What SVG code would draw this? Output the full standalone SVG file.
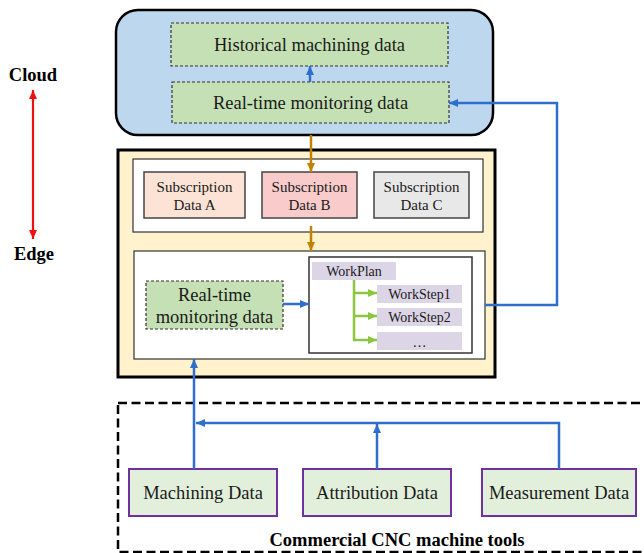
<svg xmlns="http://www.w3.org/2000/svg" width="644" height="553" viewBox="0 0 644 553">
<style>
text{font-family:"Liberation Serif","Times New Roman",serif;fill:#1a1a1a;text-anchor:middle}
.lbl{font-size:18.5px}
.sub{font-size:15px}
.wp{font-size:14px}
.bold{font-weight:bold;font-size:18.5px;fill:#000}
.dgreen{fill:#c5e0b4;stroke:#333;stroke-width:1.2;stroke-dasharray:3 2}
.subbox{stroke:#444;stroke-width:1.5}
.lav{fill:#dcd5e6}
.src{fill:#e2efda;stroke:#7030a0;stroke-width:2}
.blue{fill:none;stroke:#2e6fcd;stroke-width:2.5}
.orange{fill:none;stroke:#c08206;stroke-width:2.5}
.lgreen{fill:none;stroke:#8cc63f;stroke-width:2.5}
</style>
<defs>
<marker id="ab" markerUnits="userSpaceOnUse" markerWidth="9" markerHeight="8" refX="9" refY="4" orient="auto"><path d="M0,0 L9,4 L0,8 z" fill="#2e6fcd"/></marker>
<marker id="ao" markerUnits="userSpaceOnUse" markerWidth="9" markerHeight="8" refX="9" refY="4" orient="auto"><path d="M0,0 L9,4 L0,8 z" fill="#c08206"/></marker>
<marker id="ag" markerUnits="userSpaceOnUse" markerWidth="9" markerHeight="8" refX="9" refY="4" orient="auto"><path d="M0,0 L9,4 L0,8 z" fill="#8cc63f"/></marker>
<marker id="ar" markerUnits="userSpaceOnUse" markerWidth="9" markerHeight="8" refX="9" refY="4" orient="auto-start-reverse"><path d="M0,0 L9,4 L0,8 z" fill="#ee1111"/></marker>
</defs>

<g id="axis">
<text class="bold" x="33" y="81">Cloud</text>
<text class="bold" x="34" y="260">Edge</text>
<line x1="33" y1="90" x2="33" y2="239" stroke="#ee1111" stroke-width="2.2" marker-start="url(#ar)" marker-end="url(#ar)"/>
</g>

<g id="cloud">
<rect x="116" y="10" width="377" height="125" rx="22" fill="#bdd7ee" stroke="#000" stroke-width="2.5"/>
</g>
<g id="historical">
<rect class="dgreen" x="171" y="23" width="277" height="43"/>
<text class="lbl" x="309.5" y="51">Historical machining data</text>
</g>
<g id="cloud-realtime">
<rect class="dgreen" x="172" y="82" width="277" height="41"/>
<text class="lbl" x="310.5" y="109">Real-time monitoring data</text>
</g>

<g id="edge">
<rect x="118" y="150" width="377" height="227" fill="#fff2cc" stroke="#000" stroke-width="3"/>
</g>
<g id="subscriptions">
<rect x="133" y="159" width="350" height="73" fill="#fff" stroke="#333" stroke-width="1.2"/>
</g>
<g id="subA">
<rect class="subbox" x="144" y="172" width="101" height="46" fill="#fce3d6"/>
<text class="sub" x="194.5" y="192">Subscription</text>
<text class="sub" x="194.5" y="210">Data A</text>
</g>
<g id="subB">
<rect class="subbox" x="262" y="172" width="95" height="46" fill="#f9cbcb"/>
<text class="sub" x="309.5" y="192">Subscription</text>
<text class="sub" x="309.5" y="210">Data B</text>
</g>
<g id="subC">
<rect class="subbox" x="374" y="172" width="95" height="46" fill="#e8e8e8"/>
<text class="sub" x="421.5" y="192">Subscription</text>
<text class="sub" x="421.5" y="210">Data C</text>
</g>
<g id="processing">
<rect x="134" y="251" width="351" height="108" fill="#fff" stroke="#333" stroke-width="1.2"/>
</g>
<g id="edge-realtime">
<rect class="dgreen" x="146" y="281" width="137" height="48"/>
<text class="lbl" x="214.5" y="301">Real-time</text>
<text class="lbl" x="214.5" y="323">monitoring data</text>
</g>
<g id="workplan-box">
<rect x="309" y="257" width="163" height="96" fill="#fff" stroke="#333" stroke-width="1.5"/>
</g>
<g id="workplan">
<rect class="lav" x="312" y="262" width="84" height="18"/>
<text class="wp" x="354" y="276">WorkPlan</text>
</g>
<g id="workstep1">
<rect class="lav" x="377" y="285" width="85" height="18"/>
<text class="wp" x="419.5" y="299">WorkStep1</text>
</g>
<g id="workstep2">
<rect class="lav" x="377" y="308" width="85" height="18"/>
<text class="wp" x="419.5" y="322">WorkStep2</text>
</g>
<g id="workstep-more">
<rect class="lav" x="377" y="332" width="85" height="18"/>
<text class="wp" x="419.5" y="347">…</text>
</g>

<g id="cnc">
<rect x="118" y="403" width="545" height="149" fill="none" stroke="#000" stroke-width="2.5" stroke-dasharray="9 4.5"/>
<text class="bold" x="397" y="546">Commercial CNC machine tools</text>
</g>
<g id="machining">
<rect class="src" x="129" y="469" width="148" height="47"/>
<text class="lbl" x="203" y="499">Machining Data</text>
</g>
<g id="attribution">
<rect class="src" x="303" y="469" width="148" height="47"/>
<text class="lbl" x="377" y="499">Attribution Data</text>
</g>
<g id="measurement">
<rect class="src" x="482" y="469" width="154" height="47"/>
<text class="lbl" x="559" y="499">Measurement Data</text>
</g>

<g id="connectors">
<line class="blue" x1="310" y1="82" x2="310" y2="66" marker-end="url(#ab)"/>
<line class="orange" x1="311" y1="135" x2="311" y2="172" marker-end="url(#ao)"/>
<line class="orange" x1="311" y1="226" x2="311" y2="251" marker-end="url(#ao)"/>
<line class="blue" x1="283" y1="304" x2="309" y2="304" marker-end="url(#ab)"/>
<polyline class="blue" points="485,305 557,305 557,103 449,103" marker-end="url(#ab)"/>
<polyline class="lgreen" points="354,280 354,340"/>
<line class="lgreen" x1="353" y1="293" x2="377" y2="293" marker-end="url(#ag)"/>
<line class="lgreen" x1="353" y1="316" x2="377" y2="316" marker-end="url(#ag)"/>
<line class="lgreen" x1="353" y1="340" x2="377" y2="340" marker-end="url(#ag)"/>
<line class="blue" x1="194" y1="469" x2="194" y2="359" marker-end="url(#ab)"/>
<polyline class="blue" points="559,469 559,423 196,423" marker-end="url(#ab)"/>
<line class="blue" x1="377" y1="469" x2="377" y2="424" marker-end="url(#ab)"/>
</g>
</svg>
